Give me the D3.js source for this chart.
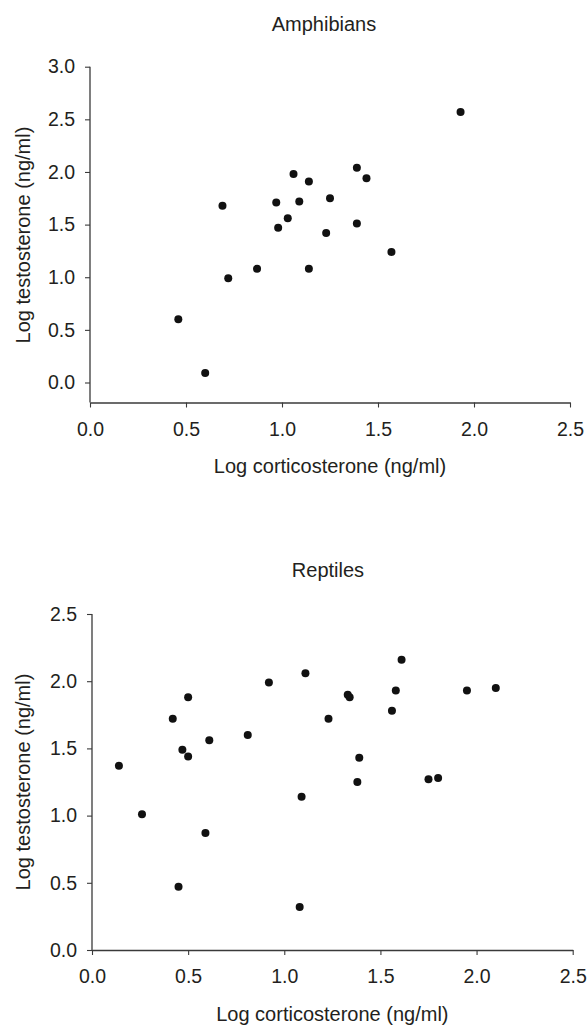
<!DOCTYPE html>
<html>
<head>
<meta charset="utf-8">
<script src="https://cdn.jsdelivr.net/npm/d3@7"></script>
<style>
  html, body { margin: 0; padding: 0; background: #fff; }
  svg { display: block; }
  text { font-family: "Liberation Sans", Arial, sans-serif; fill: #231f20; }
</style>
</head>
<body>
<svg id="chart" width="588" height="1027"></svg>
<script>
// ---- Data ----
const amphibiansCort = [0.46, 0.60, 0.69, 0.72, 0.87, 0.97, 0.98, 1.03, 1.06, 1.09, 1.14, 1.25, 1.39, 1.44, 1.23, 1.39, 1.57, 1.14, 1.93];
const amphibiansTest = [0.60, 0.09, 1.68, 0.99, 1.08, 1.71, 1.47, 1.56, 1.98, 1.72, 1.91, 1.75, 2.04, 1.94, 1.42, 1.51, 1.24, 1.08, 2.57];

const reptilesCort = [0.14, 0.26, 0.42, 0.50, 0.47, 0.50, 0.61, 0.81, 0.92, 0.59, 0.45, 1.11, 1.09, 1.08, 1.23, 1.33, 1.34, 1.39, 1.38, 1.56, 1.58, 1.61, 1.75, 1.80, 1.95, 2.10];
const reptilesTest = [1.37, 1.01, 1.72, 1.88, 1.49, 1.44, 1.56, 1.60, 1.99, 0.87, 0.47, 2.06, 1.14, 0.32, 1.72, 1.90, 1.88, 1.43, 1.25, 1.78, 1.93, 2.16, 1.27, 1.28, 1.93, 1.95];

const xTicks = [0.0, 0.5, 1.0, 1.5, 2.0, 2.5];
const amphYTicks = [0.0, 0.5, 1.0, 1.5, 2.0, 2.5, 3.0];
const reptYTicks = [0.0, 0.5, 1.0, 1.5, 2.0, 2.5];

const xLabel = "Log corticosterone (ng/ml)";
const yLabel = "Log testosterone (ng/ml)";

const svg = d3.select("#chart");

function panel(cfg) {
  const g = svg.append("g");
  const x = d3.scaleLinear().domain([0, 2.5]).range([cfg.left, cfg.right]);
  const y = d3.scaleLinear().domain(cfg.yDomain).range([cfg.bottom, cfg.top]);
  const fmt = d3.format(".1f");

  const xAxis = g.append("g")
    .attr("transform", `translate(0,${cfg.bottom})`)
    .call(d3.axisBottom(x).tickValues(xTicks).tickFormat(fmt).tickSize(5).tickSizeOuter(0).tickPadding(cfg.xPad));
  const yAxis = g.append("g")
    .attr("transform", `translate(${cfg.left},0)`)
    .call(d3.axisLeft(y).tickValues(cfg.yTicks).tickFormat(fmt).tickSize(5).tickSizeOuter(0).tickPadding(10));

  [xAxis, yAxis].forEach(a => {
    a.select(".domain").attr("stroke", "#3a3a3a").attr("stroke-width", 1.3);
    a.selectAll(".tick line").attr("stroke", "#3a3a3a").attr("stroke-width", 1.1);
    a.selectAll(".tick text").attr("fill", "#231f20").style("font-size", "19.5px")
      .style("font-family", '"Liberation Sans", Arial, sans-serif');
  });
  yAxis.select(".domain").attr("d", `M0,${y(cfg.yTicks[cfg.yTicks.length-1])}V${cfg.bottom}`);

  g.append("text")
    .attr("x", cfg.titleX)
    .attr("y", cfg.titleY)
    .attr("text-anchor", "middle")
    .style("font-size", "20px")
    .text(cfg.title);

  g.append("text")
    .attr("x", (cfg.left + cfg.right) / 2)
    .attr("y", cfg.xLabelY)
    .attr("text-anchor", "middle")
    .style("font-size", "20px")
    .text(xLabel);

  g.append("text")
    .attr("transform", `translate(${cfg.yLabelX},${cfg.yLabelCenter}) rotate(-90)`)
    .attr("text-anchor", "middle")
    .style("font-size", "20px")
    .text(yLabel);

  g.append("g").selectAll("circle")
    .data(cfg.xs.map((d, i) => [d, cfg.ys[i]]))
    .join("circle")
    .attr("cx", d => x(d[0]))
    .attr("cy", d => y(d[1]))
    .attr("r", 4)
    .attr("fill", "#111");
}

panel({
  title: "Amphibians", titleX: 324, titleY: 31,
  left: 90, right: 570, top: 66.7, bottom: 402.5,
  yDomain: [-0.19, 3.0], yTicks: amphYTicks, xPad: 15,
  xLabelY: 473, yLabelX: 30, yLabelCenter: 235,
  xs: amphibiansCort, ys: amphibiansTest
});

panel({
  title: "Reptiles", titleX: 328, titleY: 577,
  left: 92, right: 572.7, top: 614, bottom: 950,
  yDomain: [0, 2.5], yTicks: reptYTicks, xPad: 14,
  xLabelY: 1021, yLabelX: 30, yLabelCenter: 782,
  xs: reptilesCort, ys: reptilesTest
});
</script>
</body>
</html>
